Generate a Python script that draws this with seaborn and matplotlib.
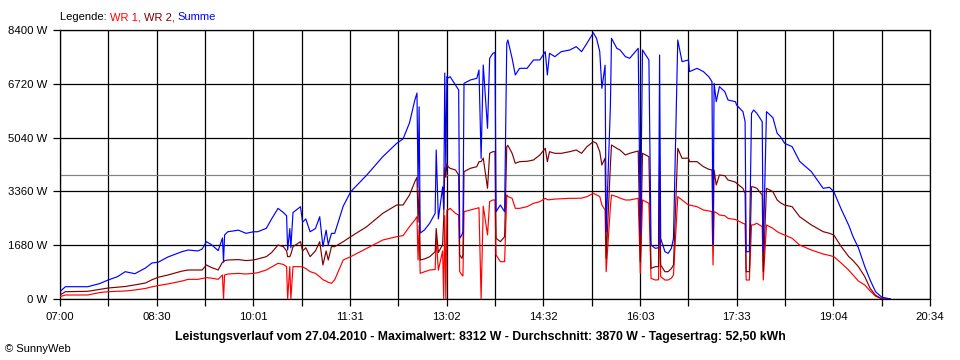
import numpy as np
import pandas as pd
import matplotlib
matplotlib.use("Agg")
import matplotlib.pyplot as plt
import seaborn as sns

# Leistungsverlauf 27.04.2010
times = [
    "07:00", "07:05", "07:26", "07:37", "07:45", "07:54", "08:01", "08:10", "08:20", "08:26",
    "08:32", "08:41", "08:54", "09:00", "09:09", "09:13", "09:17", "09:22", "09:28", "09:32",
    "09:33", "09:34", "09:37", "09:47", "09:54", "10:01", "10:05", "10:13", "10:18", "10:24",
    "10:29", "10:32", "10:33", "10:35", "10:36", "10:38", "10:45", "10:47", "10:50", "10:54",
    "10:59", "11:03", "11:06", "11:09", "11:11", "11:14", "11:17", "11:25", "11:32", "11:47",
    "12:02", "12:15", "12:21", "12:27", "12:32", "12:34", "12:35", "12:36", "12:37", "12:41",
    "12:46", "12:51", "12:52", "12:54", "12:58", "12:59", "13:00", "13:01", "13:02", "13:03",
    "13:05", "13:10", "13:13", "13:14", "13:16", "13:17", "13:18", "13:24", "13:30", "13:32",
    "13:34", "13:36", "13:40", "13:42", "13:45", "13:47", "13:48", "13:52", "13:56", "13:58",
    "13:59", "14:03", "14:06", "14:10", "14:17", "14:23", "14:29", "14:34", "14:36", "14:38",
    "14:43", "14:49", "14:57", "15:03", "15:08", "15:13", "15:19", "15:22", "15:25", "15:27",
    "15:30", "15:31", "15:35", "15:36", "15:41", "15:44", "15:49", "15:53", "16:01", "16:03",
    "16:05", "16:11", "16:13", "16:17", "16:20", "16:21", "16:22", "16:26", "16:29", "16:32",
    "16:34", "16:38", "16:42", "16:48", "16:49", "16:56", "17:02", "17:07", "17:10", "17:11",
    "17:12", "17:14", "17:17", "17:22", "17:25", "17:32", "17:33", "17:39", "17:41", "17:42",
    "17:45", "17:47", "17:49", "17:52", "17:57", "17:58", "18:01", "18:07", "18:11", "18:14",
    "18:18", "18:25", "18:32", "18:43", "18:54", "19:00", "19:04", "19:11", "19:18", "19:22",
    "19:27", "19:33", "19:38", "19:43", "19:49", "19:53", "19:57",
]

wr1 = [
    72, 125, 125, 200, 228, 240, 250, 281, 330, 380,
    420, 470, 560, 614, 614, 640, 666, 650, 614, 750,
    0, 750, 780, 800, 780, 802, 820, 906, 1000, 1114,
    1080, 1010, 0, 1010, 0, 1010, 1010, 1000, 950, 854,
    800, 697, 600, 560, 520, 489, 600, 1218, 1322, 1582,
    1842, 1946, 1980, 2259, 2467, 2571, 1218, 2300, 801, 850,
    906, 920, 1900, 900, 1500, 0, 2600, 0, 2780, 2779,
    2831, 2675, 2623, 853, 749, 720, 2727, 2780, 2831, 2850,
    0, 2900, 2000, 3040, 3092, 3092, 1374, 1166, 1166, 3248,
    3200, 3144, 2831, 2831, 2883, 2988, 3040, 3144, 3100, 3100,
    3120, 3130, 3144, 3144, 3150, 3196, 3300, 3250, 3200, 2935,
    2780, 853, 2900, 3248, 3196, 3150, 3092, 3092, 3144, 802,
    3092, 2988, 645, 593, 600, 2935, 700, 593, 593, 650,
    750, 3196, 3092, 2935, 2935, 2883, 2779, 2750, 2727, 1062,
    2727, 2700, 2623, 2600, 2519, 2480, 2467, 2363, 2340, 593,
    593, 2311, 2320, 2363, 2259, 593, 2311, 2207, 2103, 2051,
    1999, 1895, 1686, 1530, 1405, 1360, 1322, 1120, 900, 750,
    560, 437, 250, 90, 0, 0, 0,
]

wr2 = [
    125, 228, 240, 300, 343, 370, 390, 440, 500, 600,
    680, 750, 870, 906, 906, 906, 1062, 980, 906, 1150,
    1150, 1200, 1218, 1230, 1200, 1218, 1250, 1322, 1450, 1686,
    1634, 1500, 1322, 1322, 1400, 1634, 1790, 1500, 1600, 1322,
    1500, 1790, 1062, 1500, 1218, 1634, 1634, 1790, 1946, 2259,
    2675, 2935, 2935, 3248, 3664, 3800, 2400, 3500, 1218, 1250,
    1322, 1478, 2200, 1450, 1700, 2500, 4100, 3800, 4237, 4133,
    4080, 4029, 3872, 1374, 1270, 1374, 3977, 4081, 4133, 4289,
    4289, 4400, 3456, 4549, 4601, 4601, 1895, 1790, 1946, 4757,
    4800, 4549, 4237, 4289, 4300, 4341, 4497, 4705, 4289, 4600,
    4549, 4549, 4601, 4653, 4549, 4757, 4913, 4860, 4601, 4185,
    4400, 1270, 4200, 4809, 4705, 4650, 4497, 4550, 4622, 1166,
    4549, 4445, 958, 1010, 1010, 4393, 1062, 853, 853, 950,
    1062, 4705, 4393, 4400, 4289, 4289, 4133, 4050, 4029, 1686,
    4029, 3560, 3872, 3850, 3716, 3650, 3612, 3456, 3300, 853,
    853, 3508, 3500, 3456, 3248, 853, 3456, 3352, 3092, 3008,
    2930, 2883, 2571, 2311, 2103, 2051, 1998, 1634, 1322, 1200,
    1010, 697, 333, 120, 0, 0, 0,
]

summe = [
    228, 384, 384, 480, 593, 700, 853, 790, 968, 1124,
    1150, 1312, 1477, 1530, 1500, 1560, 1790, 1690, 1510, 1905,
    1165, 2000, 2100, 2150, 2050, 2100, 2100, 2207, 2500, 2830,
    2700, 2600, 1530, 2200, 1600, 2700, 2882, 2400, 2500, 2100,
    2200, 2570, 1634, 2150, 1700, 2050, 2050, 2900, 3350, 3870,
    4444, 4860, 5000, 5500, 6214, 6430, 3500, 6000, 2060, 2155,
    2370, 2676, 4653, 2500, 3500, 2800, 7057, 4000, 6943, 6900,
    6943, 6683, 6527, 1895, 2000, 2100, 6735, 6840, 6891, 7151,
    4393, 7307, 5330, 7516, 7672, 7700, 2727, 2935, 2727, 7984,
    8088, 7516, 6995, 7203, 7203, 7464, 7464, 7724, 6995, 7672,
    7568, 7724, 7776, 7880, 7724, 7984, 8312, 8140, 7724, 6579,
    7300, 2103, 6058, 8140, 7828, 7776, 7568, 7516, 7828, 2000,
    7776, 7464, 1686, 1582, 1600, 7620, 1894, 1478, 1426, 1582,
    1894, 8088, 7412, 7464, 7100, 7203, 7100, 6943, 6787, 1686,
    6735, 6163, 6631, 6475, 6215, 6160, 6058, 5850, 5538, 1478,
    1478, 5798, 5902, 5798, 5538, 1478, 5850, 5663, 5173, 5070,
    4861, 4757, 4300, 3977, 3456, 3487, 3352, 2800, 2300, 1946,
    1600, 1010, 593, 229, 52, 30, 0,
]

durchschnitt = 3870
x_labels = ["07:00", "08:30", "10:01", "11:31", "13:02", "14:32", "16:03", "17:33", "19:04", "20:34"]
y_ticks = [0, 1680, 3360, 5040, 6720, 8400]
y_labels = ["0 W", "1680 W", "3360 W", "5040 W", "6720 W", "8400 W"]
series_names = ["WR 1", "WR 2", "Summe"]
series_colors = ["#FF0000", "#800000", "#0000FF"]
caption = ("Leistungsverlauf vom 27.04.2010 - Maximalwert: 8312 W - "
           "Durchschnitt: 3870 W - Tagesertrag: 52,50 kWh")

sns.set_theme(style="white")
plt.rcParams["font.family"] = ["Liberation Sans", "DejaVu Sans"]

start = pd.to_datetime("07:00", format="%H:%M")
minutes = (pd.to_datetime(times, format="%H:%M") - start).total_seconds() / 60

df = pd.DataFrame({"minute": minutes, "WR 1": wr1, "WR 2": wr2, "Summe": summe})
long_df = df.melt(id_vars="minute", var_name="series", value_name="watt")

end_min = (pd.to_datetime(x_labels[-1], format="%H:%M") - start).total_seconds() / 60

fig = plt.figure(figsize=(9.6, 3.6), dpi=100)
ax = fig.add_axes([60 / 960, 1 - 299 / 360, 870 / 960, 269 / 360])

sns.lineplot(
    data=long_df,
    x="minute",
    y="watt",
    hue="series",
    hue_order=series_names,
    palette=dict(zip(series_names, series_colors)),
    estimator=None,
    sort=False,
    linewidth=0.85,
    legend=False,
    ax=ax,
    zorder=3,
)

ax.axhline(durchschnitt, color="#808080", linewidth=0.85, zorder=2)

ax.set_xlim(0, end_min)
ax.set_ylim(0, y_ticks[-1])
ax.set_xticks(np.linspace(0, end_min, len(x_labels)))
ax.set_xticklabels(x_labels)
ax.set_xticks(np.linspace(0, end_min, 2 * len(x_labels) - 1), minor=True)
ax.set_yticks(y_ticks)
ax.set_yticklabels(y_labels)
ax.set_xlabel("")
ax.set_ylabel("")

ax.grid(True, which="both", axis="x", color="black", linewidth=0.9)
ax.grid(True, which="major", axis="y", color="black", linewidth=0.9)
ax.tick_params(axis="both", which="both", direction="out", length=5, width=0.9,
               color="black", labelsize=8.2, labelcolor="black", pad=4,
               bottom=True, left=True)
for spine in ax.spines.values():
    spine.set_color("black")
    spine.set_linewidth(0.9)

# colored legend line at the top left
fig.canvas.draw()
renderer = fig.canvas.get_renderer()
parts = [("Legende: ", "black")] + [
    (name + (", " if i < len(series_names) - 1 else ""), col)
    for i, (name, col) in enumerate(zip(series_names, series_colors))
]
x_px = 60
for txt, col in parts:
    t = fig.text(x_px / 960, 1 - 17 / 360, txt, color=col, fontsize=8, va="center", ha="left")
    x_px += t.get_window_extent(renderer=renderer).width

fig.text(480 / 960, 1 - 337 / 360, caption, fontsize=8.8, fontweight="bold",
         ha="center", va="center", color="black")
fig.text(5 / 960, 1 - 349 / 360, "\u00a9 SunnyWeb", fontsize=8, ha="left", va="center",
         color="black")

fig.savefig("out.png", dpi=100, facecolor="white")
